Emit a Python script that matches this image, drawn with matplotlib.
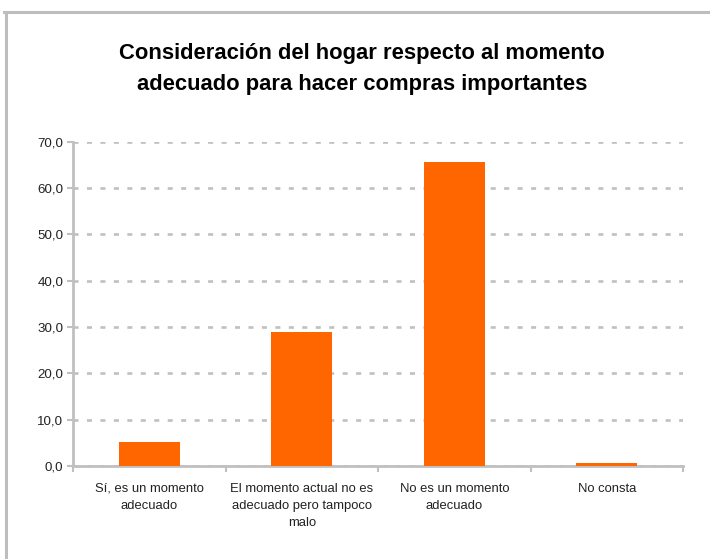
import matplotlib.pyplot as plt
from matplotlib.lines import Line2D
from matplotlib.ticker import FixedLocator, FuncFormatter

plt.rcParams['font.family'] = ['Liberation Sans', 'DejaVu Sans']

categorias = [
    "Sí, es un momento\nadecuado",
    "El momento actual no es\nadecuado pero tampoco\nmalo",
    "No es un momento\nadecuado",
    "No consta",
]
porcentajes = [5.2, 28.9, 65.6, 0.6]
marcas_y = [0, 10, 20, 30, 40, 50, 60, 70]

W, H = 710, 559
fig = plt.figure(figsize=(W / 100, H / 100), dpi=100)
gris = "#C0C0C0"

# marco del grafico (solo se ve arriba y a la izquierda)
fig.add_artist(Line2D([4 / W, 1], [1 - 11.5 / H, 1 - 11.5 / H], color="#BDBDBD", lw=2.2))
fig.add_artist(Line2D([5.5 / W, 5.5 / W], [0, 1 - 11.5 / H], color="#BDBDBD", lw=2.2))

fig.text(362 / W, 1 - 69 / H,
         "Consideración del hogar respecto al momento\nadecuado para hacer compras importantes",
         ha="center", va="center", fontsize=15.8, fontweight="bold",
         linespacing=1.65, color="#000000")

ax = fig.add_axes([73 / W, (H - 466) / H, (683 - 73) / W, (466 - 141.5) / H])

x = list(range(len(categorias)))
ax.bar(x, porcentajes, width=0.4, color="#FF6600", zorder=3)

ax.set_xlim(-0.5, len(categorias) - 0.5)
ax.set_ylim(0, 70)

ax.yaxis.set_major_locator(FixedLocator(marcas_y))
ax.yaxis.set_major_formatter(FuncFormatter(lambda v, p: f"{v:.1f}".replace(".", ",")))
ax.grid(axis="y", color=gris, lw=1.9, linestyle=(0, (1.9, 3.2)), zorder=0)

ax.xaxis.set_major_locator(FixedLocator([i - 0.5 for i in range(len(categorias) + 1)]))
ax.xaxis.set_major_formatter(FuncFormatter(lambda v, p: ""))
ax.xaxis.set_minor_locator(FixedLocator(x))
ax.set_xticklabels(categorias, minor=True)

ax.tick_params(axis="x", which="major", length=4, width=1.5, color=gris, direction="out")
ax.tick_params(axis="x", which="minor", length=0, pad=12, labelsize=9.4, labelcolor="#222222")
ax.tick_params(axis="y", length=4, width=1.5, color=gris, direction="out",
               labelsize=9.6, labelcolor="#222222", pad=3)
for lbl in ax.get_xticklabels(minor=True):
    lbl.set_linespacing(1.55)
    lbl.set_verticalalignment("top")

for lado in ["top", "right"]:
    ax.spines[lado].set_visible(False)
for lado in ["left", "bottom"]:
    ax.spines[lado].set_color(gris)
    ax.spines[lado].set_linewidth(2)

fig.savefig("out.png", dpi=100)
